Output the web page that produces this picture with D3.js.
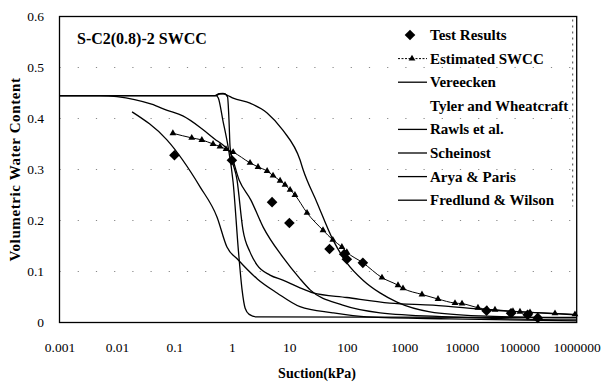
<!DOCTYPE html>
<html>
<head>
<meta charset="utf-8">
<script src="https://cdn.jsdelivr.net/npm/d3@7"></script>
<style>
  body { margin: 0; background: #fff; }
</style>
</head>
<body>
<svg id="chart" width="603" height="387"></svg>
<script>
// Axis ticks and labels
const xTicks = [0.001, 0.01, 0.1, 1, 10, 100, 1000, 10000, 100000, 1000000];
const xTickLabels = ["0.001", "0.01", "0.1", "1", "10", "100", "1000", "10000", "100000", "1000000"];
const yTicks = [0, 0.1, 0.2, 0.3, 0.4, 0.5, 0.6];
const yTickLabels = ["0", "0.1", "0.2", "0.3", "0.4", "0.5", "0.6"];

// Measured points: [suction kPa, volumetric water content]
const testResults = [
  [0.1, 0.328], [1, 0.318], [5, 0.236], [10, 0.195], [50, 0.144], [90, 0.134],
  [100, 0.124], [190, 0.117], [27000, 0.023], [72000, 0.018], [140000, 0.015], [210000, 0.009]
];

// Estimated SWCC (line with triangle markers)
const estimatedSWCC = [
  [0.094, 0.371], [0.2, 0.362], [0.3, 0.358], [0.47, 0.35], [0.62, 0.345], [0.79, 0.34],
  [1.05, 0.334], [2.07, 0.313], [2.85, 0.305], [4.1, 0.297], [5.2, 0.288], [6.9, 0.278],
  [8.4, 0.27], [10.3, 0.26], [12.5, 0.25], [20.3, 0.215], [38.5, 0.181], [57, 0.162],
  [82, 0.148], [100, 0.138], [191, 0.117], [409, 0.088], [777, 0.073], [949, 0.067],
  [2030, 0.055], [3860, 0.046], [7620, 0.038], [10100, 0.037], [19150, 0.029], [27500, 0.026],
  [37850, 0.025], [77800, 0.022], [103000, 0.021], [154000, 0.02], [419000, 0.018], [933000, 0.016]
];

// Model predictions
const vereecken = [
  [0.001, 0.445], [0.005, 0.445], [0.01, 0.443], [0.04, 0.428], [0.075, 0.416], [0.14, 0.405],
  [0.3, 0.38], [0.5, 0.36], [0.75, 0.345], [0.93, 0.334], [1.34, 0.279], [2.14, 0.24],
  [3.5, 0.187], [7.7, 0.128], [15, 0.087], [23, 0.064], [85, 0.034], [380, 0.019],
  [6000, 0.011], [1000000, 0.005]
];
const rawls = [
  [0.001, 0.445], [0.53, 0.445], [0.62, 0.4485], [0.74, 0.4485], [0.84, 0.442], [0.89, 0.397],
  [0.93, 0.344], [1.23, 0.279], [1.56, 0.181], [2.07, 0.138], [2.73, 0.113], [4.6, 0.093],
  [7.7, 0.083], [15.3, 0.068], [25.8, 0.058], [100, 0.049], [560, 0.038], [3160, 0.034],
  [27500, 0.025], [1000000, 0.015]
];
const scheinost = [
  [0.001, 0.445], [0.51, 0.445], [0.6, 0.4485], [0.7, 0.449], [0.82, 0.446], [1.05, 0.44],
  [2.07, 0.43], [4.1, 0.411], [7.7, 0.377], [15.3, 0.319], [17.3, 0.3], [30.3, 0.235],
  [57.4, 0.162], [100, 0.117], [191, 0.083], [378, 0.058], [746, 0.04], [2800, 0.021],
  [20700, 0.013], [1000000, 0.009]
];
const aryaParis = [
  [0.0183, 0.413], [0.074, 0.358], [0.279, 0.266], [0.55, 0.207], [0.82, 0.148], [1.28, 0.123],
  [2.8, 0.085], [6.1, 0.058], [15.3, 0.031], [57, 0.019], [224, 0.011], [6240, 0.007],
  [1000000, 0.003]
];
const fredlundWilson = [
  [0.001, 0.445], [0.53, 0.445], [0.58, 0.44], [0.7, 0.395], [0.86, 0.344], [1.05, 0.275],
  [1.3, 0.14], [1.5, 0.065], [1.7, 0.028], [2.0, 0.016], [2.7, 0.011], [1000000, 0.01]
];

const legendLabels = ["Test Results", "Estimated SWCC", "Vereecken", "Tyler and Wheatcraft",
  "Rawls et al.", "Scheinost", "Arya & Paris", "Fredlund & Wilson"];

const SERIF = "'Liberation Serif', 'Times New Roman', Times, 'DejaVu Serif', serif";

const svg = d3.select("#chart").attr("font-family", SERIF);
const x = d3.scaleLog().domain([0.001, 1000000]).range([59.5, 576.7]);
const y = d3.scaleLinear().domain([0, 0.6]).range([322.5, 16.5]);

// sparse dotted gridlines
const grid = svg.append("g").attr("stroke", "#888").attr("stroke-width", 1)
  .attr("stroke-dasharray", "1.2,17");
grid.selectAll("line.h").data(yTicks.slice(1, -1)).join("line")
  .attr("x1", x(0.001)).attr("x2", x(1000000))
  .attr("y1", d => y(d)).attr("y2", d => y(d));

// axes
const xAxis = d3.axisBottom(x).tickValues(xTicks)
  .tickFormat((d, i) => xTickLabels[i]).tickSize(0).tickPadding(20);
const gx = svg.append("g").attr("transform", `translate(0,${y(0)})`).call(xAxis)
  .attr("font-family", SERIF);
gx.select(".domain").remove();
gx.selectAll("text").style("font-family", SERIF).style("font-size", "13.5px").attr("fill", "#000");

const yAxis = d3.axisLeft(y).tickValues(yTicks)
  .tickFormat((d, i) => yTickLabels[i]).tickSize(0).tickPadding(15.5);
const gy = svg.append("g").attr("transform", `translate(${x(0.001)},0)`).call(yAxis)
  .attr("font-family", SERIF);
gy.select(".domain").remove();
gy.selectAll("text").style("font-family", SERIF).style("font-size", "13.5px").attr("fill", "#000");

// model curves
const line = d3.line().x(d => x(d[0])).y(d => y(d[1])).curve(d3.curveMonotoneX);
const models = [vereecken, rawls, scheinost, aryaParis, fredlundWilson];
svg.append("g").selectAll("path").data(models).join("path")
  .attr("d", line).attr("fill", "none").attr("stroke", "#000").attr("stroke-width", 1.3);

// estimated SWCC
svg.append("path").datum(estimatedSWCC).attr("d", line)
  .attr("fill", "none").attr("stroke", "#000").attr("stroke-width", 1);
const tri = d3.symbol().type(d3.symbolTriangle).size(20);
svg.append("g").selectAll("path").data(estimatedSWCC).join("path")
  .attr("d", tri).attr("transform", d => `translate(${x(d[0])},${y(d[1])})`).attr("fill", "#000");

// test results as diamonds
const diamond = (cx, cy, r) => `M${cx},${cy - r}L${cx + r},${cy}L${cx},${cy + r}L${cx - r},${cy}Z`;
svg.append("g").selectAll("path").data(testResults).join("path")
  .attr("d", d => diamond(x(d[0]), y(d[1]), 5.3)).attr("fill", "#000");

// frame
svg.append("rect").attr("x", x(0.001)).attr("y", y(0.6))
  .attr("width", x(1000000) - x(0.001)).attr("height", y(0) - y(0.6))
  .attr("fill", "none").attr("stroke", "#000").attr("stroke-width", 1.3);

// legend border (dotted, right side)
svg.append("line").attr("x1", x(1000000) - 4).attr("x2", x(1000000) - 4)
  .attr("y1", y(0.6) + 3).attr("y2", y(0.6) + 190)
  .attr("stroke", "#444").attr("stroke-width", 1).attr("stroke-dasharray", "2,4");

const txt = (sel) => sel.style("font-family", SERIF).attr("fill", "#000");

// title
txt(svg.append("text")).attr("x", 77).attr("y", 44).style("font-size", "16px")
  .style("font-weight", "bold").text("S-C2(0.8)-2 SWCC");

// legend
const lg = svg.append("g");
const lx0 = 398, lx1 = 427, ltx = 430, ly0 = 35, ldy = 23.6;
legendLabels.forEach((lab, i) => {
  const cy = ly0 + i * ldy;
  txt(lg.append("text")).attr("x", ltx).attr("y", cy + 5).style("font-size", "15px")
    .style("font-weight", "bold").text(lab);
  if (i === 0) {
    lg.append("path").attr("d", diamond(410, cy, 5.3)).attr("fill", "#000");
  } else if (i === 1) {
    lg.append("line").attr("x1", lx0).attr("x2", lx1).attr("y1", cy).attr("y2", cy)
      .attr("stroke", "#000").attr("stroke-width", 1).attr("stroke-dasharray", "2,1.5");
    lg.append("path").attr("d", tri).attr("transform", `translate(412,${cy})`).attr("fill", "#000");
  } else if (i !== 3) {
    lg.append("line").attr("x1", lx0).attr("x2", lx1).attr("y1", cy).attr("y2", cy)
      .attr("stroke", "#000").attr("stroke-width", 1.3);
  }
});

// axis titles
txt(svg.append("text")).attr("x", 317).attr("y", 378).attr("text-anchor", "middle")
  .style("font-size", "14px").style("font-weight", "bold").text("Suction(kPa)");
txt(svg.append("text")).attr("transform", `translate(20,${(y(0) + y(0.6)) / 2}) rotate(-90)`)
  .attr("text-anchor", "middle").style("font-size", "15px").style("font-weight", "bold")
  .style("letter-spacing", "0.6px")
  .text("Volumetric Water Content");
</script>
</body>
</html>
